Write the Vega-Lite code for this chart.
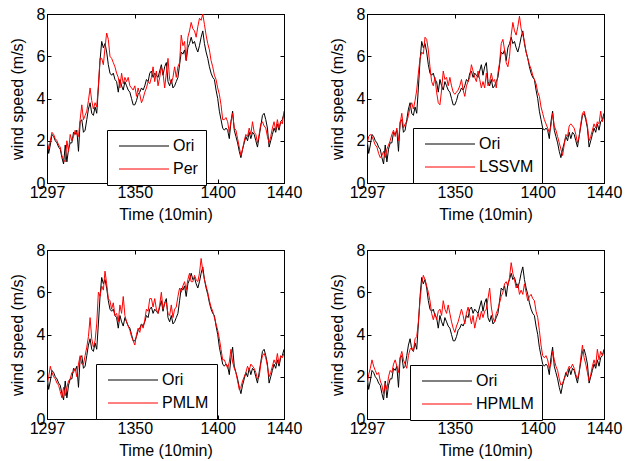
{
"$schema":"https://vega.github.io/schema/vega-lite/v6.json",
"background":"white",
"padding":{"left":8,"top":5,"right":5,"bottom":5},
"bounds":"flush",
"spacing":{"row":67,"column":83},
"columns":2,
"resolve":{"scale":{"color":"independent"},"legend":{"color":"independent"}},
"config":{
"font":"Liberation Sans",
"view":{"stroke":"black","strokeWidth":1},
"axis":{"grid":false,"labelFont":"Liberation Sans","titleFont":"Liberation Sans","labelFontSize":16,"titleFontSize":16,"titleFontWeight":"normal","labelColor":"black","titleColor":"black","tickColor":"black","domainColor":"black","tickSize":-4,"labelPadding":5,"titlePadding":6,"labelFlush":false,"labelOverlap":false,"format":"d"},
"axisLeft":{"titlePadding":11,"labelPadding":6},
"legend":{"symbolType":"M0,0H10","symbolSize":100,"symbolStrokeWidth":1,"symbolFillColor":"transparent","symbolOffset":-4,"labelFont":"Liberation Sans","labelFontSize":16,"labelColor":"black","strokeColor":"black","fillColor":"white","padding":8,"rowPadding":7,"labelOffset":46}
},
"data":{"values":[
{"t":1297,"Ori":2.1,"Per":2.0,"LSSVM":1.8,"PMLM":1.6,"HPMLM":1.6},
{"t":1298,"Ori":1.4,"Per":1.6,"LSSVM":2.2,"PMLM":2.0,"HPMLM":2.1},
{"t":1299,"Ori":1.8,"Per":2.0,"LSSVM":2.3,"PMLM":2.5,"HPMLM":2.4},
{"t":1300,"Ori":2.3,"Per":2.4,"LSSVM":2.2,"PMLM":2.2,"HPMLM":2.8},
{"t":1301,"Ori":2.2,"Per":2.3,"LSSVM":2.0,"PMLM":2.0,"HPMLM":2.5},
{"t":1302,"Ori":2.0,"Per":2.1,"LSSVM":1.8,"PMLM":1.9,"HPMLM":2.3},
{"t":1303,"Ori":1.9,"Per":2.0,"LSSVM":1.7,"PMLM":1.7,"HPMLM":2.1},
{"t":1304,"Ori":1.7,"Per":1.8,"LSSVM":1.4,"PMLM":1.6,"HPMLM":2.2},
{"t":1305,"Ori":1.6,"Per":1.7,"LSSVM":1.2,"PMLM":1.3,"HPMLM":1.8},
{"t":1306,"Ori":1.2,"Per":1.3,"LSSVM":1.3,"PMLM":1.0,"HPMLM":1.6},
{"t":1307,"Ori":0.9,"Per":1.1,"LSSVM":1.5,"PMLM":1.5,"HPMLM":1.2},
{"t":1308,"Ori":1.8,"Per":1.0,"LSSVM":1.2,"PMLM":1.1,"HPMLM":1.7},
{"t":1309,"Ori":1.0,"Per":2.0,"LSSVM":1.6,"PMLM":1.5,"HPMLM":1.4},
{"t":1310,"Ori":1.6,"Per":1.5,"LSSVM":1.8,"PMLM":1.8,"HPMLM":2.0},
{"t":1311,"Ori":1.9,"Per":2.3,"LSSVM":2.0,"PMLM":1.9,"HPMLM":2.3},
{"t":1312,"Ori":1.9,"Per":2.0,"LSSVM":2.3,"PMLM":2.2,"HPMLM":2.2},
{"t":1313,"Ori":2.4,"Per":2.2,"LSSVM":2.5,"PMLM":2.2,"HPMLM":2.6},
{"t":1314,"Ori":2.3,"Per":2.5,"LSSVM":2.2,"PMLM":2.4,"HPMLM":2.8},
{"t":1315,"Ori":2.5,"Per":2.3,"LSSVM":2.6,"PMLM":2.0,"HPMLM":2.5},
{"t":1316,"Ori":1.5,"Per":2.2,"LSSVM":2.0,"PMLM":2.6,"HPMLM":2.2},
{"t":1317,"Ori":2.9,"Per":3.0,"LSSVM":2.8,"PMLM":3.0,"HPMLM":2.9},
{"t":1318,"Ori":3.0,"Per":3.7,"LSSVM":3.3,"PMLM":2.6,"HPMLM":3.2},
{"t":1319,"Ori":2.4,"Per":3.0,"LSSVM":2.6,"PMLM":2.6,"HPMLM":2.8},
{"t":1320,"Ori":2.5,"Per":3.2,"LSSVM":2.8,"PMLM":3.0,"HPMLM":2.6},
{"t":1321,"Ori":3.0,"Per":3.4,"LSSVM":2.9,"PMLM":3.4,"HPMLM":2.4},
{"t":1322,"Ori":3.5,"Per":3.9,"LSSVM":3.2,"PMLM":3.9,"HPMLM":3.0},
{"t":1323,"Ori":3.8,"Per":4.5,"LSSVM":3.6,"PMLM":4.8,"HPMLM":3.3},
{"t":1324,"Ori":3.3,"Per":3.9,"LSSVM":3.8,"PMLM":3.8,"HPMLM":3.4},
{"t":1325,"Ori":3.2,"Per":3.5,"LSSVM":3.5,"PMLM":3.4,"HPMLM":3.2},
{"t":1326,"Ori":3.6,"Per":3.8,"LSSVM":3.9,"PMLM":3.7,"HPMLM":3.8},
{"t":1327,"Ori":3.3,"Per":3.6,"LSSVM":4.4,"PMLM":4.5,"HPMLM":3.9},
{"t":1328,"Ori":4.5,"Per":4.6,"LSSVM":5.2,"PMLM":6.0,"HPMLM":4.6},
{"t":1329,"Ori":5.8,"Per":5.9,"LSSVM":5.9,"PMLM":5.8,"HPMLM":5.6},
{"t":1330,"Ori":6.7,"Per":5.9,"LSSVM":6.2,"PMLM":6.3,"HPMLM":6.4},
{"t":1331,"Ori":6.4,"Per":5.6,"LSSVM":6.1,"PMLM":6.1,"HPMLM":6.8},
{"t":1332,"Ori":6.6,"Per":6.4,"LSSVM":6.9,"PMLM":7.0,"HPMLM":6.6},
{"t":1333,"Ori":6.2,"Per":7.1,"LSSVM":6.8,"PMLM":6.4,"HPMLM":6.3},
{"t":1334,"Ori":5.6,"Per":6.8,"LSSVM":6.3,"PMLM":5.7,"HPMLM":6.0},
{"t":1335,"Ori":5.2,"Per":6.0,"LSSVM":5.5,"PMLM":5.6,"HPMLM":5.6},
{"t":1336,"Ori":5.1,"Per":5.9,"LSSVM":4.8,"PMLM":5.2,"HPMLM":5.0},
{"t":1337,"Ori":5.2,"Per":5.7,"LSSVM":4.6,"PMLM":5.5,"HPMLM":4.7},
{"t":1338,"Ori":4.9,"Per":5.5,"LSSVM":5.0,"PMLM":4.9,"HPMLM":5.0},
{"t":1339,"Ori":4.8,"Per":5.2,"LSSVM":4.3,"PMLM":5.0,"HPMLM":4.7},
{"t":1340,"Ori":4.3,"Per":5.0,"LSSVM":3.8,"PMLM":4.6,"HPMLM":5.1},
{"t":1341,"Ori":4.9,"Per":4.5,"LSSVM":3.7,"PMLM":5.4,"HPMLM":5.2},
{"t":1342,"Ori":4.6,"Per":5.2,"LSSVM":4.4,"PMLM":5.0,"HPMLM":4.9},
{"t":1343,"Ori":4.4,"Per":4.7,"LSSVM":5.3,"PMLM":5.8,"HPMLM":5.6},
{"t":1344,"Ori":4.8,"Per":5.0,"LSSVM":4.9,"PMLM":4.9,"HPMLM":5.2},
{"t":1345,"Ori":4.6,"Per":4.8,"LSSVM":5.0,"PMLM":4.6,"HPMLM":5.0},
{"t":1346,"Ori":4.4,"Per":5.0,"LSSVM":4.6,"PMLM":4.4,"HPMLM":5.4},
{"t":1347,"Ori":4.3,"Per":4.6,"LSSVM":5.0,"PMLM":4.2,"HPMLM":5.0},
{"t":1348,"Ori":4.0,"Per":4.5,"LSSVM":4.6,"PMLM":3.9,"HPMLM":4.6},
{"t":1349,"Ori":3.7,"Per":4.4,"LSSVM":4.3,"PMLM":3.7,"HPMLM":4.3},
{"t":1350,"Ori":3.7,"Per":4.6,"LSSVM":4.2,"PMLM":3.5,"HPMLM":4.1},
{"t":1351,"Ori":3.9,"Per":4.1,"LSSVM":4.3,"PMLM":4.0,"HPMLM":4.4},
{"t":1352,"Ori":4.2,"Per":4.5,"LSSVM":4.4,"PMLM":4.3,"HPMLM":4.6},
{"t":1353,"Ori":4.3,"Per":4.2,"LSSVM":4.6,"PMLM":4.1,"HPMLM":4.9},
{"t":1354,"Ori":4.5,"Per":3.8,"LSSVM":4.9,"PMLM":4.5,"HPMLM":5.2},
{"t":1355,"Ori":4.4,"Per":4.0,"LSSVM":4.4,"PMLM":4.3,"HPMLM":4.9},
{"t":1356,"Ori":4.6,"Per":4.3,"LSSVM":4.1,"PMLM":4.7,"HPMLM":4.5},
{"t":1357,"Ori":4.9,"Per":4.5,"LSSVM":4.6,"PMLM":5.2,"HPMLM":5.0},
{"t":1358,"Ori":4.8,"Per":4.8,"LSSVM":4.8,"PMLM":5.1,"HPMLM":5.3},
{"t":1359,"Ori":5.2,"Per":4.7,"LSSVM":5.0,"PMLM":5.7,"HPMLM":4.9},
{"t":1360,"Ori":5.3,"Per":5.0,"LSSVM":5.6,"PMLM":5.7,"HPMLM":4.5},
{"t":1361,"Ori":5.0,"Per":5.5,"LSSVM":5.3,"PMLM":5.3,"HPMLM":4.9},
{"t":1362,"Ori":5.2,"Per":4.8,"LSSVM":5.0,"PMLM":5.7,"HPMLM":4.3},
{"t":1363,"Ori":5.1,"Per":5.3,"LSSVM":4.8,"PMLM":5.2,"HPMLM":4.7},
{"t":1364,"Ori":5.0,"Per":4.6,"LSSVM":5.3,"PMLM":5.0,"HPMLM":5.0},
{"t":1365,"Ori":5.3,"Per":5.0,"LSSVM":4.9,"PMLM":5.4,"HPMLM":4.7},
{"t":1366,"Ori":5.6,"Per":5.5,"LSSVM":4.5,"PMLM":6.0,"HPMLM":5.1},
{"t":1367,"Ori":5.1,"Per":5.2,"LSSVM":4.8,"PMLM":5.2,"HPMLM":4.8},
{"t":1368,"Ori":5.5,"Per":4.5,"LSSVM":4.5,"PMLM":5.5,"HPMLM":5.1},
{"t":1369,"Ori":5.7,"Per":5.2,"LSSVM":5.2,"PMLM":5.5,"HPMLM":5.2},
{"t":1370,"Ori":4.8,"Per":5.9,"LSSVM":4.6,"PMLM":5.0,"HPMLM":5.7},
{"t":1371,"Ori":4.6,"Per":4.9,"LSSVM":4.8,"PMLM":4.9,"HPMLM":6.2},
{"t":1372,"Ori":4.9,"Per":4.7,"LSSVM":5.2,"PMLM":5.4,"HPMLM":5.3},
{"t":1373,"Ori":4.5,"Per":5.0,"LSSVM":4.8,"PMLM":4.8,"HPMLM":4.8},
{"t":1374,"Ori":4.6,"Per":5.5,"LSSVM":4.9,"PMLM":5.2,"HPMLM":4.6},
{"t":1375,"Ori":4.8,"Per":5.0,"LSSVM":4.5,"PMLM":5.3,"HPMLM":5.0},
{"t":1376,"Ori":5.0,"Per":5.5,"LSSVM":5.2,"PMLM":5.8,"HPMLM":5.2},
{"t":1377,"Ori":5.6,"Per":5.7,"LSSVM":5.7,"PMLM":6.2,"HPMLM":5.5},
{"t":1378,"Ori":6.2,"Per":7.0,"LSSVM":6.6,"PMLM":6.0,"HPMLM":5.8},
{"t":1379,"Ori":6.1,"Per":6.5,"LSSVM":6.8,"PMLM":6.3,"HPMLM":6.0},
{"t":1380,"Ori":6.3,"Per":6.7,"LSSVM":6.3,"PMLM":6.5,"HPMLM":6.4},
{"t":1381,"Ori":5.8,"Per":5.8,"LSSVM":5.7,"PMLM":6.1,"HPMLM":6.5},
{"t":1382,"Ori":6.4,"Per":6.9,"LSSVM":5.5,"PMLM":6.6,"HPMLM":6.3},
{"t":1383,"Ori":6.6,"Per":7.2,"LSSVM":6.0,"PMLM":6.9,"HPMLM":6.7},
{"t":1384,"Ori":6.9,"Per":7.6,"LSSVM":7.0,"PMLM":6.5,"HPMLM":7.4},
{"t":1385,"Ori":6.6,"Per":7.3,"LSSVM":7.6,"PMLM":6.5,"HPMLM":6.9},
{"t":1386,"Ori":6.7,"Per":7.2,"LSSVM":7.2,"PMLM":6.8,"HPMLM":6.6},
{"t":1387,"Ori":6.4,"Per":6.9,"LSSVM":7.0,"PMLM":6.6,"HPMLM":6.2},
{"t":1388,"Ori":6.2,"Per":7.4,"LSSVM":7.4,"PMLM":6.5,"HPMLM":6.4},
{"t":1389,"Ori":6.5,"Per":7.8,"LSSVM":7.9,"PMLM":6.9,"HPMLM":5.9},
{"t":1390,"Ori":6.9,"Per":7.7,"LSSVM":7.3,"PMLM":7.6,"HPMLM":6.1},
{"t":1391,"Ori":7.2,"Per":8.0,"LSSVM":7.0,"PMLM":7.0,"HPMLM":5.9},
{"t":1392,"Ori":6.6,"Per":7.5,"LSSVM":6.7,"PMLM":6.6,"HPMLM":6.4},
{"t":1393,"Ori":6.2,"Per":7.0,"LSSVM":6.2,"PMLM":6.3,"HPMLM":6.0},
{"t":1394,"Ori":5.9,"Per":6.6,"LSSVM":5.9,"PMLM":6.0,"HPMLM":5.6},
{"t":1395,"Ori":5.5,"Per":6.3,"LSSVM":5.6,"PMLM":5.6,"HPMLM":5.8},
{"t":1396,"Ori":5.2,"Per":5.8,"LSSVM":5.4,"PMLM":5.3,"HPMLM":5.9},
{"t":1397,"Ori":5.0,"Per":5.5,"LSSVM":5.1,"PMLM":5.1,"HPMLM":5.7},
{"t":1398,"Ori":4.9,"Per":5.1,"LSSVM":4.9,"PMLM":4.8,"HPMLM":5.6},
{"t":1399,"Ori":4.4,"Per":4.9,"LSSVM":4.7,"PMLM":4.5,"HPMLM":5.1},
{"t":1400,"Ori":4.0,"Per":4.5,"LSSVM":4.3,"PMLM":4.2,"HPMLM":4.8},
{"t":1401,"Ori":3.4,"Per":4.2,"LSSVM":4.1,"PMLM":3.8,"HPMLM":4.2},
{"t":1402,"Ori":3.0,"Per":3.7,"LSSVM":3.6,"PMLM":3.3,"HPMLM":3.5},
{"t":1403,"Ori":2.6,"Per":3.0,"LSSVM":3.3,"PMLM":2.8,"HPMLM":3.0},
{"t":1404,"Ori":2.5,"Per":3.0,"LSSVM":3.0,"PMLM":2.8,"HPMLM":2.9},
{"t":1405,"Ori":2.6,"Per":3.1,"LSSVM":2.8,"PMLM":2.6,"HPMLM":3.0},
{"t":1406,"Ori":2.5,"Per":2.9,"LSSVM":2.6,"PMLM":2.4,"HPMLM":2.8},
{"t":1407,"Ori":2.1,"Per":2.4,"LSSVM":2.4,"PMLM":2.7,"HPMLM":2.4},
{"t":1408,"Ori":2.9,"Per":2.9,"LSSVM":2.7,"PMLM":3.3,"HPMLM":2.6},
{"t":1409,"Ori":3.4,"Per":3.3,"LSSVM":3.3,"PMLM":2.7,"HPMLM":3.2},
{"t":1410,"Ori":2.5,"Per":2.6,"LSSVM":2.7,"PMLM":2.4,"HPMLM":2.8},
{"t":1411,"Ori":2.2,"Per":2.5,"LSSVM":2.5,"PMLM":2.2,"HPMLM":2.5},
{"t":1412,"Ori":1.9,"Per":2.1,"LSSVM":2.2,"PMLM":1.8,"HPMLM":2.3},
{"t":1413,"Ori":1.5,"Per":1.7,"LSSVM":1.9,"PMLM":1.4,"HPMLM":1.9},
{"t":1414,"Ori":1.2,"Per":1.3,"LSSVM":1.6,"PMLM":1.5,"HPMLM":1.6},
{"t":1415,"Ori":1.6,"Per":1.6,"LSSVM":1.3,"PMLM":1.8,"HPMLM":1.7},
{"t":1416,"Ori":1.9,"Per":2.0,"LSSVM":1.8,"PMLM":2.0,"HPMLM":1.9},
{"t":1417,"Ori":2.2,"Per":2.3,"LSSVM":2.3,"PMLM":2.2,"HPMLM":2.1},
{"t":1418,"Ori":2.0,"Per":2.2,"LSSVM":2.2,"PMLM":2.5,"HPMLM":2.3},
{"t":1419,"Ori":2.4,"Per":2.6,"LSSVM":2.7,"PMLM":2.3,"HPMLM":2.5},
{"t":1420,"Ori":2.1,"Per":2.3,"LSSVM":2.8,"PMLM":2.6,"HPMLM":2.4},
{"t":1421,"Ori":2.4,"Per":2.9,"LSSVM":2.7,"PMLM":2.5,"HPMLM":2.6},
{"t":1422,"Ori":2.3,"Per":2.4,"LSSVM":2.6,"PMLM":2.4,"HPMLM":2.4},
{"t":1423,"Ori":2.0,"Per":2.3,"LSSVM":2.3,"PMLM":2.2,"HPMLM":2.1},
{"t":1424,"Ori":1.7,"Per":1.9,"LSSVM":1.9,"PMLM":1.9,"HPMLM":1.9},
{"t":1425,"Ori":2.2,"Per":2.3,"LSSVM":2.2,"PMLM":2.0,"HPMLM":2.2},
{"t":1426,"Ori":2.7,"Per":2.8,"LSSVM":2.8,"PMLM":2.6,"HPMLM":2.9},
{"t":1427,"Ori":3.2,"Per":2.9,"LSSVM":3.3,"PMLM":3.0,"HPMLM":3.5},
{"t":1428,"Ori":3.3,"Per":2.7,"LSSVM":3.4,"PMLM":3.1,"HPMLM":2.9},
{"t":1429,"Ori":3.0,"Per":2.6,"LSSVM":3.1,"PMLM":2.9,"HPMLM":2.6},
{"t":1430,"Ori":2.6,"Per":2.2,"LSSVM":2.7,"PMLM":2.5,"HPMLM":2.2},
{"t":1431,"Ori":1.7,"Per":1.9,"LSSVM":2.0,"PMLM":2.0,"HPMLM":1.8},
{"t":1432,"Ori":2.0,"Per":2.2,"LSSVM":2.2,"PMLM":2.2,"HPMLM":2.1},
{"t":1433,"Ori":2.3,"Per":2.6,"LSSVM":2.5,"PMLM":2.5,"HPMLM":2.5},
{"t":1434,"Ori":2.6,"Per":2.9,"LSSVM":2.8,"PMLM":2.8,"HPMLM":2.8},
{"t":1435,"Ori":2.4,"Per":2.5,"LSSVM":2.6,"PMLM":2.6,"HPMLM":2.5},
{"t":1436,"Ori":2.8,"Per":3.0,"LSSVM":2.9,"PMLM":3.1,"HPMLM":3.3},
{"t":1437,"Ori":2.5,"Per":2.6,"LSSVM":2.8,"PMLM":2.6,"HPMLM":2.8},
{"t":1438,"Ori":2.9,"Per":2.9,"LSSVM":3.4,"PMLM":3.0,"HPMLM":3.2},
{"t":1439,"Ori":3.0,"Per":2.8,"LSSVM":2.9,"PMLM":2.9,"HPMLM":3.0},
{"t":1440,"Ori":3.3,"Per":3.4,"LSSVM":3.2,"PMLM":3.1,"HPMLM":3.2}
]},
"concat":[
{"width":237,"height":169,"transform":[{"fold":["Ori","Per"],"as":["series","v"]}],
"layer":[
{"mark":{"type":"line","strokeWidth":1,"clip":true},"encoding":{
"x":{"field":"t","type":"quantitative","scale":{"domain":[1297,1440],"nice":false,"zero":false},"axis":{"values":[1297,1350,1400,1440],"title":"Time (10min)"}},
"y":{"field":"v","type":"quantitative","scale":{"domain":[0,8],"nice":false},"axis":{"values":[0,2,4,6,8],"title":"wind speed (m/s)"}},
"color":{"field":"series","type":"nominal","scale":{"domain":["Ori","Per"],"range":["#000000","#ff0000"]},"legend":{"title":null,"orient":"none","legendX":60,"legendY":116}}}},
{"mark":{"type":"line","opacity":0},"encoding":{
"x":{"field":"t","type":"quantitative","axis":{"orient":"top","values":[1297,1350,1400,1440],"labels":false,"title":null}},
"y":{"field":"v","type":"quantitative","axis":{"orient":"right","values":[0,2,4,6,8],"labels":false,"title":null}},
"detail":{"field":"series"}}}
],"resolve":{"axis":{"x":"independent","y":"independent"}}},
{"width":237,"height":169,"transform":[{"fold":["Ori","LSSVM"],"as":["series","v"]}],
"layer":[
{"mark":{"type":"line","strokeWidth":1,"clip":true},"encoding":{
"x":{"field":"t","type":"quantitative","scale":{"domain":[1297,1440],"nice":false,"zero":false},"axis":{"values":[1297,1350,1400,1440],"title":"Time (10min)"}},
"y":{"field":"v","type":"quantitative","scale":{"domain":[0,8],"nice":false},"axis":{"values":[0,2,4,6,8],"title":"wind speed (m/s)"}},
"color":{"field":"series","type":"nominal","scale":{"domain":["Ori","LSSVM"],"range":["#000000","#ff0000"]},"legend":{"title":null,"orient":"none","legendX":46,"legendY":114}}}},
{"mark":{"type":"line","opacity":0},"encoding":{
"x":{"field":"t","type":"quantitative","axis":{"orient":"top","values":[1297,1350,1400,1440],"labels":false,"title":null}},
"y":{"field":"v","type":"quantitative","axis":{"orient":"right","values":[0,2,4,6,8],"labels":false,"title":null}},
"detail":{"field":"series"}}}
],"resolve":{"axis":{"x":"independent","y":"independent"}}},
{"width":237,"height":169,"transform":[{"fold":["Ori","PMLM"],"as":["series","v"]}],
"layer":[
{"mark":{"type":"line","strokeWidth":1,"clip":true},"encoding":{
"x":{"field":"t","type":"quantitative","scale":{"domain":[1297,1440],"nice":false,"zero":false},"axis":{"values":[1297,1350,1400,1440],"title":"Time (10min)"}},
"y":{"field":"v","type":"quantitative","scale":{"domain":[0,8],"nice":false},"axis":{"values":[0,2,4,6,8],"title":"wind speed (m/s)"}},
"color":{"field":"series","type":"nominal","scale":{"domain":["Ori","PMLM"],"range":["#000000","#ff0000"]},"legend":{"title":null,"orient":"none","legendX":49,"legendY":114}}}},
{"mark":{"type":"line","opacity":0},"encoding":{
"x":{"field":"t","type":"quantitative","axis":{"orient":"top","values":[1297,1350,1400,1440],"labels":false,"title":null}},
"y":{"field":"v","type":"quantitative","axis":{"orient":"right","values":[0,2,4,6,8],"labels":false,"title":null}},
"detail":{"field":"series"}}}
],"resolve":{"axis":{"x":"independent","y":"independent"}}},
{"width":237,"height":169,"transform":[{"fold":["Ori","HPMLM"],"as":["series","v"]}],
"layer":[
{"mark":{"type":"line","strokeWidth":1,"clip":true},"encoding":{
"x":{"field":"t","type":"quantitative","scale":{"domain":[1297,1440],"nice":false,"zero":false},"axis":{"values":[1297,1350,1400,1440],"title":"Time (10min)"}},
"y":{"field":"v","type":"quantitative","scale":{"domain":[0,8],"nice":false},"axis":{"values":[0,2,4,6,8],"title":"wind speed (m/s)"}},
"color":{"field":"series","type":"nominal","scale":{"domain":["Ori","HPMLM"],"range":["#000000","#ff0000"]},"legend":{"title":null,"orient":"none","legendX":43,"legendY":115}}}},
{"mark":{"type":"line","opacity":0},"encoding":{
"x":{"field":"t","type":"quantitative","axis":{"orient":"top","values":[1297,1350,1400,1440],"labels":false,"title":null}},
"y":{"field":"v","type":"quantitative","axis":{"orient":"right","values":[0,2,4,6,8],"labels":false,"title":null}},
"detail":{"field":"series"}}}
],"resolve":{"axis":{"x":"independent","y":"independent"}}}
]
}
